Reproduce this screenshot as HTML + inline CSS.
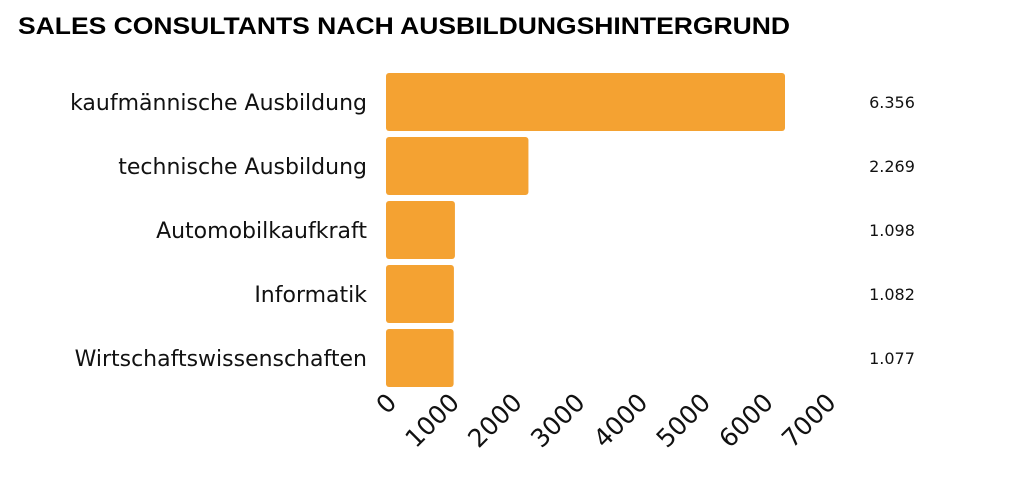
<!DOCTYPE html>
<html><head><meta charset="utf-8"><style>
body{margin:0;background:#fff;width:1014px;height:489px;overflow:hidden}
svg{font-family:"DejaVu Sans","Liberation Sans",sans-serif}
</style></head><body>
<svg width="1014" height="489">
<text x="18" y="34" font-size="24" font-weight="bold" fill="#000" textLength="772" lengthAdjust="spacingAndGlyphs" font-family="Liberation Sans, sans-serif">SALES CONSULTANTS NACH AUSBILDUNGSHINTERGRUND</text>
<g id="bars"></g>
</svg>
<script>
const categories=["kaufmännische Ausbildung","technische Ausbildung","Automobilkaufkraft","Informatik","Wirtschaftswissenschaften"];
const values=[6356,2269,1098,1082,1077];
const valueLabels=["6.356","2.269","1.098","1.082","1.077"];
const ticks=[0,1000,2000,3000,4000,5000,6000,7000];
const NS="http://www.w3.org/2000/svg";
const g=document.getElementById("bars");
const x0=386,pxPer=399/6356,y0=73,band=64,bh=58;
const xs=v=>x0+v*pxPer;
function mk(t,a){const e=document.createElementNS(NS,t);for(const k in a)e.setAttribute(k,a[k]);g.appendChild(e);return e;}
categories.forEach((c,i)=>{
 const y=y0+i*band;
 const r=mk("rect",{x:x0,y:y,width:xs(values[i])-x0,height:bh,rx:3,fill:"#f4a232"});
 
 
 const l=mk("text",{x:367,y:y+bh/2+8,"text-anchor":"end","font-size":22,fill:"#111"});
 l.textContent=c;
 
 
 const v=mk("text",{x:892,y:y+bh/2+6,"text-anchor":"middle","font-size":16,fill:"#111"});
 v.textContent=valueLabels[i];
 
 
});
ticks.forEach(t=>{
 const x=xs(t)+12,y=404;
 const e=mk("text",{x:x,y:y,"text-anchor":"end","font-size":25,fill:"#111",transform:`rotate(-45 ${x} ${y})`});
 e.textContent=String(t);
 
 
});
</script>
</body></html>
